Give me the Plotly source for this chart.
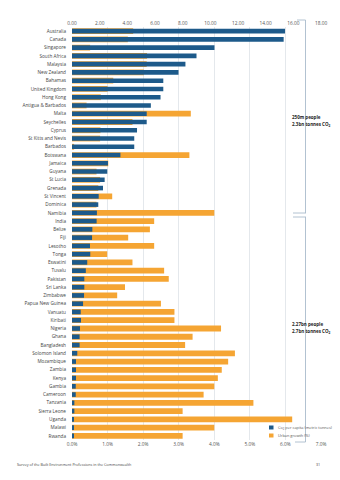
import plotly.graph_objects as go

countries = ["Australia", "Canada", "Singapore", "South Africa", "Malaysia", "New Zealand",
             "Bahamas", "United Kingdom", "Hong Kong", "Antigua & Barbados", "Malta",
             "Seychelles", "Cyprus", "St Kitts and Nevis", "Barbados", "Botswana", "Jamaica",
             "Guyana", "St Lucia", "Grenada", "St Vincent", "Dominica", "Namibia", "India",
             "Belize", "Fiji", "Lesotho", "Tonga", "Eswatini", "Tuvalu", "Pakistan",
             "Sri Lanka", "Zimbabwe", "Papua New Guinea", "Vanuatu", "Kiribati", "Nigeria",
             "Ghana", "Bangladesh", "Solomon Island", "Mozambique", "Zambia", "Kenya",
             "Gambia", "Cameroon", "Tanzania", "Sierra Leone", "Uganda", "Malawi", "Rwanda"]

co2_per_capita = [15.4, 15.3, 10.3, 9.0, 8.2, 7.7, 6.6, 6.6, 6.4, 5.7, 5.4, 5.4, 4.7, 4.5, 4.5,
                  3.5, 2.6, 2.55, 2.36, 2.24, 1.93, 1.9, 1.8, 1.78, 1.47, 1.45, 1.3, 1.32, 1.1,
                  1.0, 0.89, 0.89, 0.87, 0.8, 0.63, 0.65, 0.58, 0.55, 0.55, 0.38, 0.29, 0.29,
                  0.29, 0.27, 0.27, 0.17, 0.17, 0.13, 0.1, 0.1]

urban_growth = [1.72, 1.57, 0.51, 2.11, 2.1, 2.02, 1.16, 1.0, 0.81, 0.41, 3.34, 1.7, 0.8, 0.79,
                0.06, 3.3, 1.02, 0.69, 0.79, 0.74, 1.13, 0.69, 4.0, 2.31, 2.19, 1.58, 2.31, 0.99,
                1.7, 2.59, 2.72, 1.49, 1.27, 2.5, 2.88, 2.88, 4.19, 3.39, 3.18, 4.58, 4.39, 4.21,
                4.1, 4.0, 3.7, 5.1, 3.11, 6.19, 4.0, 3.11]

top_ticks = [0, 2, 4, 6, 8, 10, 12, 14, 16, 18]
top_ticktext = ["0.00", "2.00", "4.00", "6.00", "8.00", "10.00", "12.00", "14.00", "16.00", "18.00"]
bottom_ticks = [0, 1, 2, 3, 4, 5, 6, 7]
bottom_ticktext = ["0.0%", "1.0%", "2.0%", "3.0%", "4.0%", "5.0%", "6.0%", "7.0%"]

BLUE = "#1d5a8a"
ORANGE = "#f5a533"
FONT = "Open Sans"
TEXT = "#555555"

W, H = 340, 480
L, R, T, B = 72, 19, 27, 40
PW, PH = W - L - R, H - T - B


def px(xp):
    return (xp - L) / PW


def py(yp):
    return (H - B - yp) / PH


fig = go.Figure()
fig.add_trace(go.Bar(y=countries, x=urban_growth, orientation="h", xaxis="x", yaxis="y",
                     marker=dict(color=ORANGE, line=dict(width=0)), width=0.7,
                     showlegend=False, name="Urban growth (%)"))
fig.add_trace(go.Bar(y=countries, x=co2_per_capita, orientation="h", xaxis="x2", yaxis="y",
                     marker=dict(color=BLUE, line=dict(width=0)), width=0.56,
                     showlegend=False, name="Co2 per capita (metric tonnes)"))

line_col = "#a9bbcc"
shapes = []


def seg(x0, y0, x1, y1):
    shapes.append(dict(type="line", xref="paper", yref="paper", x0=px(x0), y0=py(y0),
                       x1=px(x1), y1=py(y1), line=dict(color=line_col, width=0.9)))


seg(297, 20, 305.5, 20)
seg(305.5, 20, 305.5, 213)
seg(293, 213, 306, 213)
seg(293, 217, 306, 217)
seg(305.5, 217, 305.5, 442)
seg(295, 442, 305.5, 442)

# legend squares
shapes.append(dict(type="rect", xref="paper", yref="paper", x0=px(269), x1=px(273.5),
                   y0=py(429.5), y1=py(425.5), fillcolor=BLUE, line=dict(width=0)))
shapes.append(dict(type="rect", xref="paper", yref="paper", x0=px(269), x1=px(273.5),
                   y0=py(437.5), y1=py(433.5), fillcolor=ORANGE, line=dict(width=0)))

annotations = []


def note(x, y, text, size, color="#222222", xanchor="left"):
    annotations.append(dict(xref="paper", yref="paper", x=px(x), y=py(y), text=text,
                            showarrow=False, xanchor=xanchor, yanchor="middle",
                            font=dict(family=FONT, size=size, color=color)))


note(289.5, 117, "<b>250m people</b>", 4.5)
note(289.5, 124, "<b>2.3bn tonnes CO<sub>2</sub></b>", 4.5)
note(289.5, 324, "<b>2.27bn people</b>", 4.5)
note(289.5, 331, "<b>2.7bn tonnes CO<sub>2</sub></b>", 4.5)
note(275.5, 427.5, "Co<sub>2</sub> per capita (metric tonnes)", 3.9, TEXT)
note(275.5, 435.5, "Urban growth (%)", 3.9, TEXT)
note(15, 464, "Survey of the Built Environment Professions in the Commonwealth", 3.7, "#444444")
note(322, 464, "31", 3.7, "#444444", xanchor="right")

fig.update_layout(
    width=W, height=H,
    margin=dict(l=L, r=R, t=T, b=B),
    paper_bgcolor="white", plot_bgcolor="white",
    barmode="overlay",
    font=dict(family=FONT, color=TEXT),
    xaxis=dict(range=[0, 7], tickvals=bottom_ticks, ticktext=bottom_ticktext, side="bottom",
               showgrid=True, gridcolor="#e4e8ec", gridwidth=0.7, zeroline=False,
               showline=False, ticks="", tickfont=dict(size=4.8, color=TEXT, family=FONT),
               fixedrange=True),
    xaxis2=dict(range=[0, 18], tickvals=top_ticks, ticktext=top_ticktext, side="top",
                overlaying="x", showgrid=False, zeroline=False, showline=False, ticks="",
                tickfont=dict(size=4.8, color=TEXT, family=FONT), fixedrange=True),
    yaxis=dict(type="category", categoryorder="array", categoryarray=countries,
               range=[len(countries) - 0.5, -0.5], showgrid=False, zeroline=False,
               ticks="", ticklabelstandoff=5, tickfont=dict(size=4.7, color="#444444", family=FONT)),
    shapes=shapes,
    annotations=annotations,
)

fig.write_html("out.html")
